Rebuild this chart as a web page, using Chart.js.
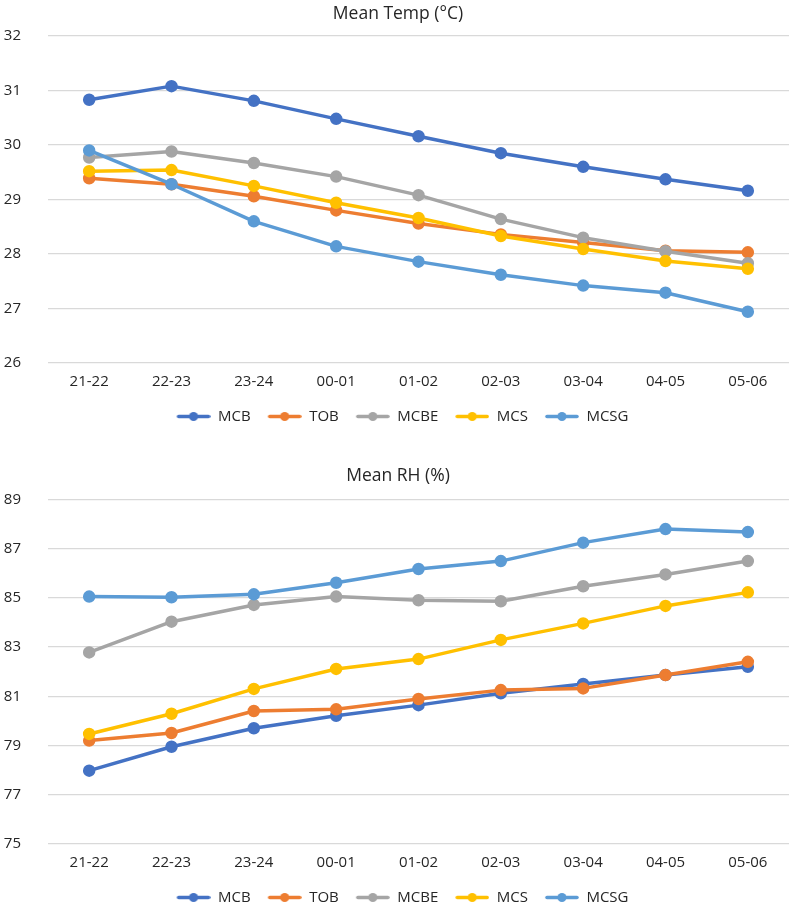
<!DOCTYPE html>
<html>
<head>
<meta charset="utf-8">
<script src="https://cdn.jsdelivr.net/npm/chart.js@4/dist/chart.umd.min.js"></script>
<style>
  html, body { margin: 0; padding: 0; width: 797px; height: 906px; overflow: hidden; background: #fff; }
  .box { position: relative; width: 797px; }
  #box1 { height: 434px; }
  #box2 { height: 481px; }
</style>
</head>
<body>
<div class="box" id="box1"><canvas id="temp"></canvas></div>
<div class="box" id="box2"><canvas id="rh"></canvas></div>
<script>
const labels = ['21-22', '22-23', '23-24', '00-01', '01-02', '02-03', '03-04', '04-05', '05-06']
const seriesNames = ['MCB', 'TOB', 'MCBE', 'MCS', 'MCSG']
const seriesColors = ['#4472C4', '#ED7D31', '#A5A5A5', '#FFC000', '#5B9BD5']

// mean temperature (°C)
const tempMCB = [30.83, 31.08, 30.81, 30.48, 30.16, 29.85, 29.60, 29.37, 29.16]
const tempTOB = [29.39, 29.28, 29.06, 28.80, 28.56, 28.36, 28.21, 28.06, 28.03]
const tempMCBE = [29.77, 29.88, 29.67, 29.42, 29.08, 28.64, 28.30, 28.05, 27.83]
const tempMCS = [29.52, 29.54, 29.25, 28.94, 28.66, 28.33, 28.09, 27.87, 27.73]
const tempMCSG = [29.90, 29.28, 28.60, 28.14, 27.86, 27.62, 27.42, 27.29, 26.94]

// mean relative humidity (%)
const rhMCB = [77.98, 78.95, 79.70, 80.21, 80.64, 81.12, 81.50, 81.86, 82.20]
const rhTOB = [79.20, 79.51, 80.40, 80.47, 80.89, 81.25, 81.32, 81.86, 82.40]
const rhMCBE = [82.78, 84.03, 84.71, 85.05, 84.90, 84.86, 85.47, 85.95, 86.49]
const rhMCS = [79.47, 80.29, 81.30, 82.11, 82.51, 83.29, 83.96, 84.67, 85.22]
const rhMCSG = [85.05, 85.02, 85.14, 85.61, 86.17, 86.49, 87.24, 87.79, 87.67]

const FONT = "'Open Sans', sans-serif"
const TEXT = '#262626'
const GRID = '#D9D9D9'

// little line + dot picture for the legend, like excel
// (blank strip on the left gives the space between legend items)
function legendIcon(color){
    const c = document.createElement('canvas')
    c.width = 43
    c.height = 15
    const ctx = c.getContext('2d')
    ctx.strokeStyle = color
    ctx.lineWidth = 3.5
    ctx.lineCap = 'round'
    ctx.beginPath()
    ctx.moveTo(11, 7.5)
    ctx.lineTo(41, 7.5)
    ctx.stroke()
    ctx.fillStyle = color
    ctx.beginPath()
    ctx.arc(26, 7.5, 4.5, 0, Math.PI * 2)
    ctx.fill()
    return c
}
const icons = seriesColors.map(legendIcon)

function makeDatasets(values){
    return values.map((data, i) => ({
        label: seriesNames[i],
        data: data,
        borderColor: seriesColors[i],
        backgroundColor: seriesColors[i],
        pointBackgroundColor: seriesColors[i],
        pointBorderColor: seriesColors[i],
        borderWidth: 3.5,
        pointRadius: 4.5,
        pointHoverRadius: 4.5,
        borderCapStyle: 'round',
        borderJoinStyle: 'round',
        tension: 0,
        order: values.length - i   // later series drawn on top
    }))
}

function makeChart(canv, title, values, min, max, step, titlePad){
    return new Chart(canv, {
        type: 'line',
        data: { labels: labels, datasets: makeDatasets(values) },
        options: {
            responsive: true,
            maintainAspectRatio: false,
            animation: false,
            layout: { padding: { left: 0, right: 1, top: 0, bottom: 0 } },
            scales: {
                x: {
                    offset: true,
                    grid: { display: false, drawTicks: false },
                    border: { display: false },
                    ticks: { color: TEXT, font: { family: FONT, size: 15 }, padding: 10, maxRotation: 0 }
                },
                y: {
                    min: min,
                    max: max,
                    grid: { color: GRID, lineWidth: 1.3, drawTicks: false },
                    border: { display: false },
                    ticks: { stepSize: step, color: TEXT, font: { family: FONT, size: 15 }, padding: 27 },
                    afterFit: s => { s.width = 48 }
                }
            },
            plugins: {
                tooltip: { enabled: false },
                title: {
                    display: true,
                    text: title,
                    color: TEXT,
                    font: { family: FONT, size: 17.5, weight: 'normal' },
                    padding: titlePad
                },
                legend: {
                    position: 'bottom',
                    labels: {
                        usePointStyle: true,
                        pointStyleWidth: 43,
                        padding: 8,
                        color: TEXT,
                        font: { family: FONT, size: 15 },
                        generateLabels: chart => {
                            const items = Chart.defaults.plugins.legend.labels.generateLabels(chart)
                            items.sort((a, b) => a.datasetIndex - b.datasetIndex)
                            items.forEach(it => { it.pointStyle = icons[it.datasetIndex] })
                            return items
                        }
                    }
                }
            }
        }
    })
}

makeChart(document.querySelector('#temp'), 'Mean Temp (°C)',
    [tempMCB, tempTOB, tempMCBE, tempMCS, tempMCSG], 26, 32, 1, { top: 1.5, bottom: 11.7 })

makeChart(document.querySelector('#rh'), 'Mean RH (%)',
    [rhMCB, rhTOB, rhMCBE, rhMCS, rhMCSG], 75, 89, 2, { top: 31.5, bottom: 12.8 })
</script>
</body>
</html>
